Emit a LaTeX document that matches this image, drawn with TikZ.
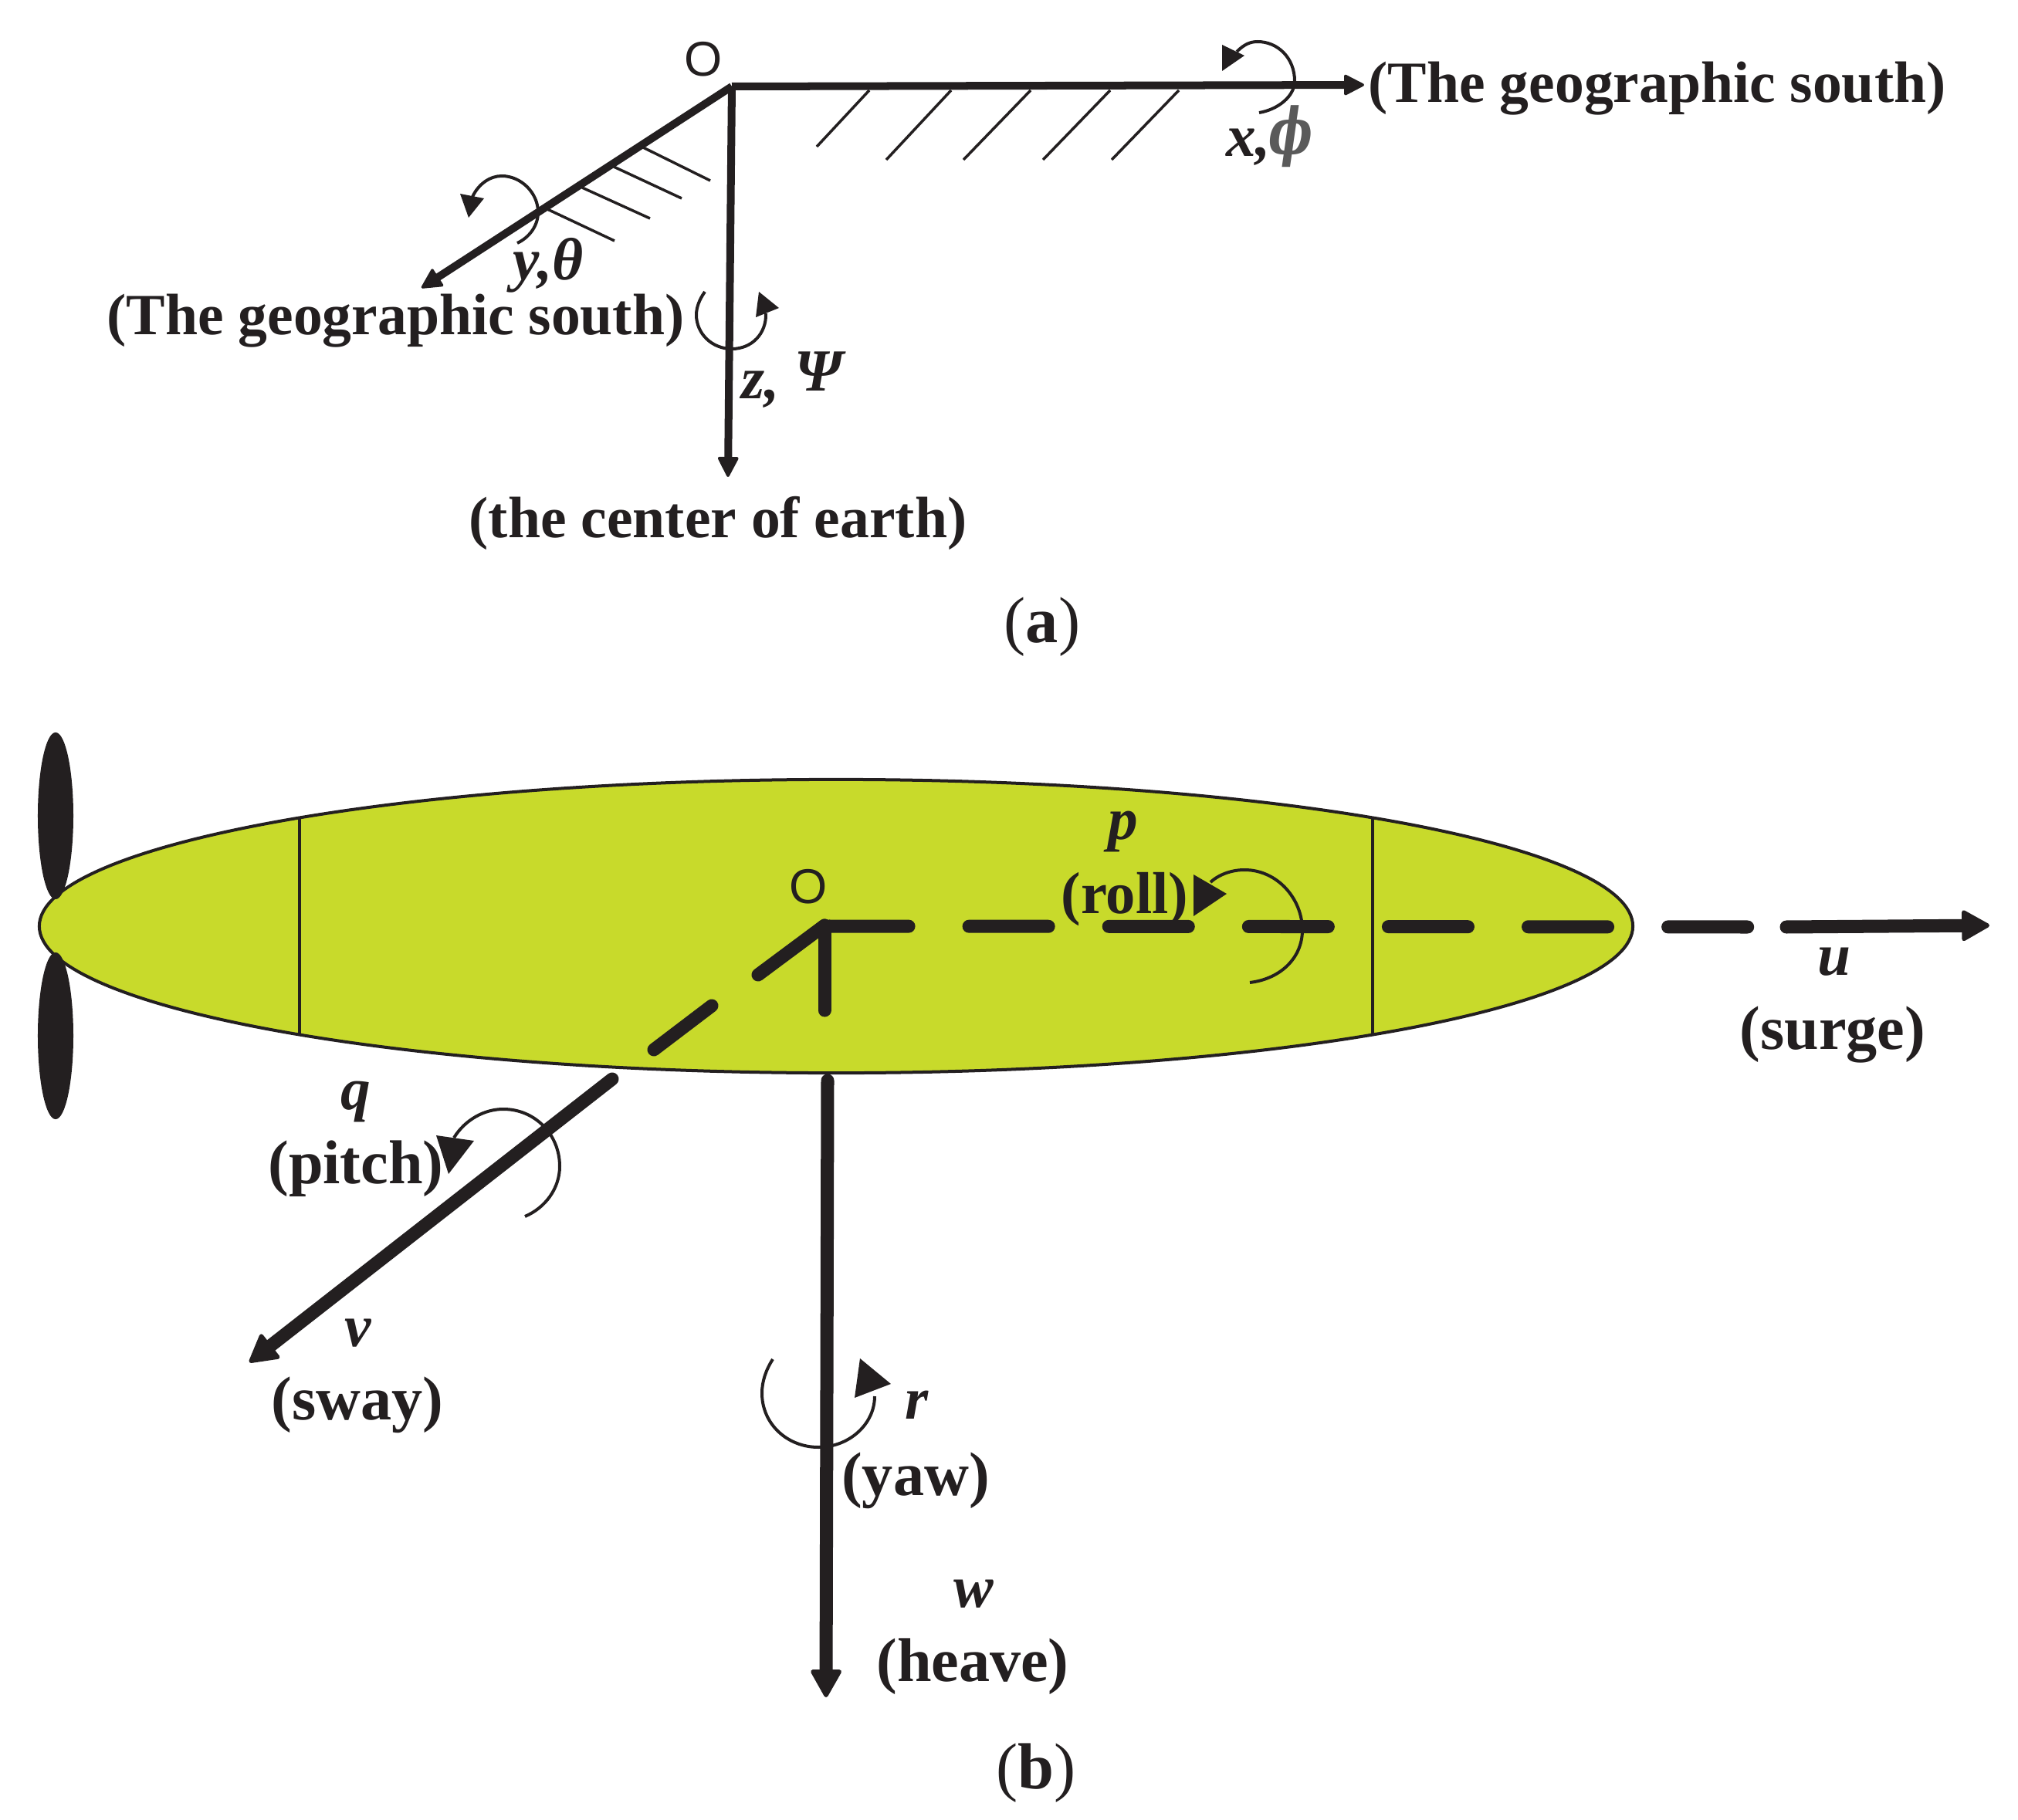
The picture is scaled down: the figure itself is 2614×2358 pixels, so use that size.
\documentclass[tikz,border=0pt]{standalone}
\usepackage{fontspec}
\setmainfont{Liberation Serif}
\newfontfamily\letterO{Liberation Sans}
\newfontfamily\phifont{DejaVu Serif}
\usetikzlibrary{arrows,arrows.meta,shapes,shapes.geometric}
\definecolor{ink}{HTML}{231F20}
\definecolor{hullgreen}{HTML}{C8DA2B}
\definecolor{phigray}{HTML}{5A5A5A}

\begin{document}
\begin{tikzpicture}[x=0.01cm,y=-0.01cm]
	\tikzstyle{word}=[inner sep=0pt,anchor=base,text=ink,font=\fontsize{21.5}{24}\selectfont\bfseries]
	\tikzstyle{bigword}=[word,font=\fontsize{22.8}{24}\selectfont\bfseries]
	\tikzstyle{symbol}=[word,font=\fontsize{22}{24}\selectfont\bfseries\itshape]
	\tikzstyle{origin}=[inner sep=0pt,text=ink,font=\fontsize{18}{20}\selectfont\letterO]
	\tikzstyle{axis}=[ink,line width=0.1cm,arrows={-Triangle[length=8pt,width=8pt,line width=1pt,round]}]
	\tikzstyle{bodyaxis}=[ink,line width=0.17cm,line cap=round]
	\tikzstyle{bodyarrow}=[bodyaxis,arrows={-Triangle[length=11pt,width=12pt,line width=1.5pt,round]}]
	\tikzstyle{hatch}=[ink,line width=0.035cm]
	\tikzstyle{turn}=[ink,line width=0.04cm]
	\tikzstyle{turnhead}=[fill=ink]
	\useasboundingbox (0,0) rectangle (2614,2358);

	% frame fixed to the earth
	\coordinate (oa) at (948,112);
	\coordinate (xtip) at (1767,110);
	\coordinate (ytip) at (546,373);
	\coordinate (ztip) at (943,618);
	\node[origin] (oalabel) at (911,77) {O};
	\draw[axis] (oa) -- (xtip);
	\draw[axis] (oa) -- (ytip);
	\draw[axis] (oa) -- (ztip);

	\draw[hatch] (1126,117) -- (1058,190);
	\draw[hatch] (1232,117) -- (1148,207);
	\draw[hatch] (1335,117) -- (1248,207);
	\draw[hatch] (1438,117) -- (1351,207);
	\draw[hatch] (1527,117) -- (1440,207);
	\draw[hatch] (833,191) -- (920,234);
	\draw[hatch] (795,216) -- (883,257);
	\draw[hatch] (754,243) -- (842,283);
	\draw[hatch] (709,271) -- (796,312);

	\draw[turn] (1602,67) .. controls (1612,57) and (1620,54) .. (1629,54) .. controls (1655,54) and (1677,75) .. (1677,105) .. controls (1677,125) and (1655,142) .. (1631,146);
	\fill[turnhead] (1583,58) -- (1612,72) -- (1583,92) -- cycle;
	\draw[turn] (612,255) .. controls (620,238) and (635,228) .. (650,228) .. controls (675,228) and (697,250) .. (697,275) .. controls (697,293) and (685,308) .. (670,315);
	\fill[turnhead] (596,251) -- (627,257) -- (607,282) -- cycle;
	\draw[turn] (913,378) .. controls (906,388) and (902,398) .. (902,408) .. controls (902,432) and (922,452) .. (948,452) .. controls (974,452) and (993,432) .. (992,406);
	\fill[turnhead] (983,378) -- (1009,399) -- (979,411) -- cycle;

	\node[word,anchor=base west] (southx) at (1772,133) {(The geographic south)};
	\node[word,anchor=base west] (southy) at (138,434) {(The geographic south)};
	\node[word] (earth) at (930,696) {(the center of earth)};
	\node[symbol] (xlabel) at (1617,203) {x,};
	\node[symbol,font=\fontsize{21}{24}\selectfont\phifont\bfseries\itshape,text=phigray] (philabel) at (1672,200) {\scalebox{0.82}[1.12]{ϕ}};
	\node[symbol] (ytheta) at (710,363) {y,θ};
	\node[symbol] (zlabel) at (985,517) {z,};
	\node[symbol] (psilabel) at (1060,507) {Ψ};
	\node[word,font=\fontsize{24}{26}\selectfont] (parta) at (1350,832) {(\textbf{a})};

	% frame fixed to the vehicle
	\node[ellipse,draw=ink,fill=hullgreen,line width=0.04cm,inner sep=0pt,minimum width=20.63cm,minimum height=3.8cm] (hull) at (1083,1200) {};
	\node[ellipse,fill=ink,inner sep=0pt,minimum width=0.46cm,minimum height=2.16cm] (bladeup) at (72,1057) {};
	\node[ellipse,fill=ink,inner sep=0pt,minimum width=0.46cm,minimum height=2.16cm] (bladedown) at (72,1342) {};
	\draw[ink,line width=0.035cm] (388,1060) -- (388,1340);
	\draw[ink,line width=0.035cm] (1778,1060) -- (1778,1340);

	\coordinate (ob) at (1068,1199);
	\coordinate (ysplit) at (982,1263);
	\coordinate (ymidup) at (922,1303);
	\coordinate (ymidlow) at (847,1360);
	\coordinate (yout) at (793,1398);
	\coordinate (vtip) at (323,1765);
	\coordinate (zsplit) at (1068,1309);
	\coordinate (zout) at (1072,1400);
	\coordinate (wtip) at (1070,2199);
	\coordinate (xsplit) at (2265,1201);
	\coordinate (xout) at (2314,1201);
	\coordinate (utip) at (2577,1199);
	\node[origin] (oblabel) at (1047,1149) {O};
	\draw[bodyaxis,dash pattern=on 1.03cm off 0.78cm] (1074,1200) -- (xsplit);
	\draw[bodyarrow] (xout) -- (utip);
	\draw[bodyaxis] (ob) -- (ysplit);
	\draw[bodyaxis] (ymidup) -- (ymidlow);
	\draw[bodyarrow] (yout) -- (vtip);
	\draw[bodyaxis] (ob) -- (zsplit);
	\draw[bodyarrow] (zout) -- (wtip);

	\draw[turn] (1568,1143) .. controls (1580,1132) and (1597,1127) .. (1612,1127) .. controls (1655,1127) and (1687,1165) .. (1687,1205) .. controls (1687,1240) and (1660,1268) .. (1619,1273);
	\fill[turnhead] (1546,1133) -- (1589,1158) -- (1546,1187) -- cycle;
	\draw[turn] (588,1474) .. controls (603,1450) and (628,1437) .. (652,1437) .. controls (693,1437) and (725,1470) .. (725,1511) .. controls (725,1540) and (706,1565) .. (680,1576);
	\fill[turnhead] (565,1471) -- (614,1478) -- (581,1521) -- cycle;
	\draw[turn] (1001,1761) .. controls (992,1775) and (987,1790) .. (987,1805) .. controls (987,1845) and (1020,1875) .. (1060,1875) .. controls (1100,1875) and (1133,1845) .. (1133,1809);
	\fill[turnhead] (1114,1760) -- (1154,1793) -- (1107,1811) -- cycle;

	\node[symbol] (plabel) at (1455,1087) {p};
	\node[word,font=\fontsize{21.8}{24}\selectfont\bfseries] (roll) at (1457,1183) {(roll)};
	\node[symbol] (ulabel) at (2376,1263) {u};
	\node[bigword] (surge) at (2374,1359) {(surge)};
	\node[symbol] (qlabel) at (461,1437) {q};
	\node[bigword] (pitch) at (461,1533) {(pitch)};
	\node[symbol] (vlabel) at (464,1744) {v};
	\node[bigword] (sway) at (463,1839) {(sway)};
	\node[symbol] (rlabel) at (1188,1838) {r};
	\node[bigword] (yaw) at (1186,1937) {(yaw)};
	\node[symbol] (wlabel) at (1261,2082) {w};
	\node[bigword] (heave) at (1260,2178) {(heave)};
	\node[word,font=\fontsize{24}{26}\selectfont] (partb) at (1342,2317) {(\textbf{b})};
\end{tikzpicture}
\end{document}
